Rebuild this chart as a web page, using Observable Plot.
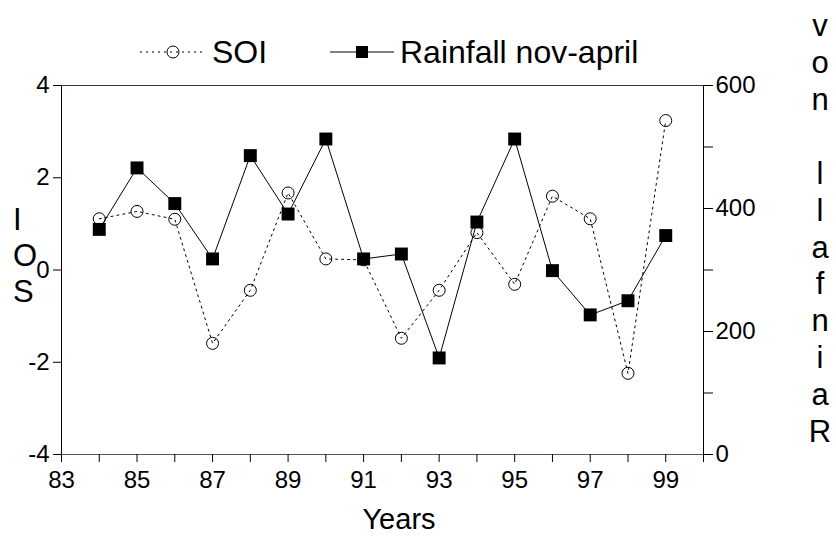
<!DOCTYPE html>
<html><head><meta charset="utf-8">
<script src="https://cdn.jsdelivr.net/npm/d3@7"></script>
<script src="https://cdn.jsdelivr.net/npm/@observablehq/plot@0.6"></script>
<style>body{margin:0;background:#fff}</style>
</head><body><div id="chart"></div>
<script>
// ---- data ----
const years = [84, 85, 86, 87, 88, 89, 90, 91, 92, 93, 94, 95, 96, 97, 98, 99];
const soi = [1.11, 1.27, 1.10, -1.59, -0.44, 1.67, 0.24, 0.22, -1.48, -0.44, 0.81, -0.31, 1.60, 1.11, -2.24, 3.24];
const rainfall = [366, 466, 408, 318, 486, 391, 513, 318, 326, 157, 378, 513, 299, 227, 250, 356];
const xTicks = [83, 84, 85, 86, 87, 88, 89, 90, 91, 92, 93, 94, 95, 96, 97, 98, 99, 100];
const xTickLabels = [83, 85, 87, 89, 91, 93, 95, 97, 99];
const soiTicks = [-4, -2, 0, 2, 4];
const rainTicks = [0, 100, 200, 300, 400, 500, 600];
const rainTickLabels = [0, 200, 400, 600];
const seriesNames = ["SOI", "Rainfall nov-april"];
const xLabel = "Years";
const leftLabel = "SOI";
const rightLabel = "Rainfall nov";

// rainfall 0..600 shares the SOI -4..4 vertical scale
const toY = r => r / 75 - 4;
const fromY = v => Math.round((v + 4) * 75);
const soiData = years.map((y, i) => ({year: y, value: soi[i]}));
const rainData = years.map((y, i) => ({year: y, value: toY(rainfall[i])}));

const font = "'Liberation Sans', Arial, sans-serif";
const plot = Plot.plot({
  width: 836, height: 538,
  marginLeft: 61, marginRight: 133, marginTop: 85, marginBottom: 84,
  x: {domain: [83, 100]},
  y: {domain: [-4, 4]},
  style: {fontFamily: font, fontSize: "24px", color: "#000", background: "#fff"},
  marks: [
    Plot.ruleY([4], {stroke: "#333"}),
    Plot.ruleY([-4], {stroke: "#555"}),
    Plot.ruleX([83], {stroke: "#000"}),
    Plot.ruleX([100], {stroke: "#000"}),
    Plot.axisX(xTicks, {tickSize: 8, tickPadding: 8, label: null,
      tickFormat: d => xTickLabels.includes(d) ? String(d) : ""}),
    Plot.axisY(soiTicks, {anchor: "left", tickSize: 8, tickPadding: 4, label: null,
      tickFormat: d => String(d)}),
    Plot.axisY(rainTicks.map(toY), {anchor: "right", tickSize: 9, tickPadding: 3, label: null,
      tickFormat: v => rainTickLabels.includes(fromY(v)) ? String(fromY(v)) : ""}),
    Plot.line(soiData, {x: "year", y: "value", stroke: "#000", strokeWidth: 1, strokeDasharray: "2,4"}),
    Plot.dot(soiData, {x: "year", y: "value", r: 6, stroke: "#000", fill: "none", strokeWidth: 1}),
    Plot.line(rainData, {x: "year", y: "value", stroke: "#000", strokeWidth: 1}),
    Plot.dot(rainData, {x: "year", y: "value", symbol: "square", r: 7.3, fill: "#000", stroke: "none"})
  ]
});
document.getElementById("chart").appendChild(plot);

// ---- extra text / legend ----
const svg = d3.select(plot);
const g = svg.append("g").attr("font-family", font).attr("fill", "#000").attr("text-anchor", "start");

// legend
const lg = g.append("g");
lg.append("line").attr("x1", 140).attr("x2", 204).attr("y1", 52).attr("y2", 52)
  .attr("stroke", "#000").attr("stroke-dasharray", "2,4");
lg.append("circle").attr("cx", 173).attr("cy", 52).attr("r", 6).attr("fill", "none").attr("stroke", "#000");
lg.append("text").attr("x", 212).attr("y", 63).attr("font-size", 32).text(seriesNames[0]);
lg.append("line").attr("x1", 330).attr("x2", 394).attr("y1", 52).attr("y2", 52).attr("stroke", "#000");
lg.append("rect").attr("x", 356).attr("y", 46).attr("width", 12).attr("height", 12).attr("fill", "#000");
lg.append("text").attr("x", 400).attr("y", 63).attr("font-size", 32).text(seriesNames[1]);

// x label
g.append("text").attr("x", 399).attr("y", 529).attr("font-size", 29).attr("text-anchor", "middle").text(xLabel);

// left stacked label (reads bottom to top)
leftLabel.split("").forEach((ch, i) => {
  g.append("text").attr("x", 13).attr("y", 302 - i * 36).attr("font-size", 31).text(ch);
});
// right stacked label (reads bottom to top)
rightLabel.split("").forEach((ch, i) => {
  if (ch === " ") return;
  g.append("text").attr("x", 820).attr("y", 442 - i * 36.9).attr("font-size", 31)
    .attr("text-anchor", "middle").text(ch);
});
</script>
</body></html>
